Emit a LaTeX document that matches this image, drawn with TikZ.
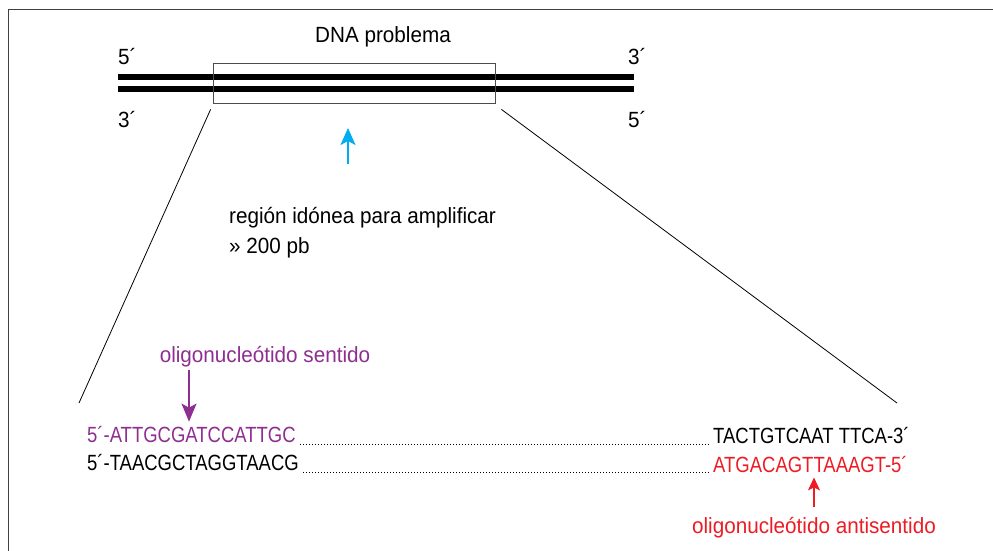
\documentclass[tikz,border=0pt]{standalone}
\usepackage{fontspec}
\setmainfont{Liberation Sans}[FakeStretch=0.94]
\newfontfamily\seqfont{Liberation Sans}[FakeStretch=0.84]
\usetikzlibrary{arrows.meta,positioning}
\definecolor{sensepurple}{HTML}{8E2E91}
\definecolor{antired}{HTML}{ED1C24}
\definecolor{regioncyan}{HTML}{00AEEF}

\begin{document}
\begin{tikzpicture}[x=1pt,y=-1pt]
    \tikzstyle{txt}=[inner sep=0pt,anchor=base west,font=\fontsize{22}{26}\selectfont]
    \tikzstyle{seq}=[txt,font=\fontsize{22}{26}\seqfont]
    \tikzstyle{strand}=[line width=6pt]
    \tikzstyle{dots}=[line width=1pt,dash pattern=on 1pt off 2pt]
    \useasboundingbox (0,0) rectangle (993,551);
    % Frame
    \draw[black!75,line width=1pt] (8.5,551) -- (8.5,10) -- (993,10);
    % Strands
    \draw[strand] (118,77) -- (634,77);
    \draw[strand] (118,89) -- (634,89);
    \node[draw=black!70,line width=0.8pt,minimum width=282,minimum height=40,inner sep=0pt]
        (win) at (354,83) {};
    \node[txt,anchor=base] (title) at (383,43) {DNA problema};
    \node[txt] (tl) at (118,64) {5´};
    \node[txt] (bl) at (118,127) {3´};
    \node[txt] (tr) at (628,64) {3´};
    \node[txt] (br) at (628,127) {5´};
    % Region
    \coordinate (up) at (348,164);
    \coordinate (uptip) at (348,128);
    \draw[regioncyan,line width=2pt,-{Stealth[length=17pt,width=15pt,inset=4pt]}]
        (up) -- (uptip);
    \node[txt] (reg) at (229,223) {región idónea para amplificar};
    \node[txt] (pb) at (229,253) {» 200 pb};
    % Sequences
    \node[seq,sensepurple] (s1) at (87,442) {5´-ATTGCGATCCATTGC};
    \node[seq] (s2) at (87,470) {5´-TAACGCTAGGTAACG};
    \node[seq] (s3) at (713,443) {TACTGTCAAT TTCA-3´};
    \node[seq,antired] (s4) at (713,472) {ATGACAGTTAAAGT-5´};
    \draw[dots] ([xshift=4pt,yshift=-2pt]s1.base east) -- ([xshift=-3pt,yshift=-2pt]s1.base east -| s3.west);
    \draw[dots] ([xshift=4pt,yshift=-2pt]s2.base east) -- ([xshift=-3pt,yshift=-2pt]s2.base east -| s4.west);
    % Zoom lines
    \coordinate (zl) at (79,403);
    \coordinate (zr) at (897,403);
    \draw[line width=0.8pt] ([xshift=-2pt,yshift=-6pt]win.south west) -- (zl);
    \draw[line width=0.8pt] ([xshift=6pt,yshift=-6pt]win.south east) -- (zr);
    % Primers
    \node[txt,anchor=base,sensepurple] (sense) at (265,362) {oligonucleótido sentido};
    \node[txt,anchor=base,antired] (anti) at (814,533) {oligonucleótido antisentido};
    \coordinate (sa) at (189,370);
    \coordinate (aa) at (814,507);
    \draw[sensepurple,line width=1.6pt,-{Stealth[length=18pt,width=15pt,inset=4pt]}]
        (sa) -- ([yshift=4pt]s1.north -| sa);
    \draw[antired,line width=1.6pt,-{Stealth[length=13pt,width=12pt,inset=3pt]}]
        (aa) -- ([yshift=-5pt]s4.south -| aa);
\end{tikzpicture}
\end{document}
